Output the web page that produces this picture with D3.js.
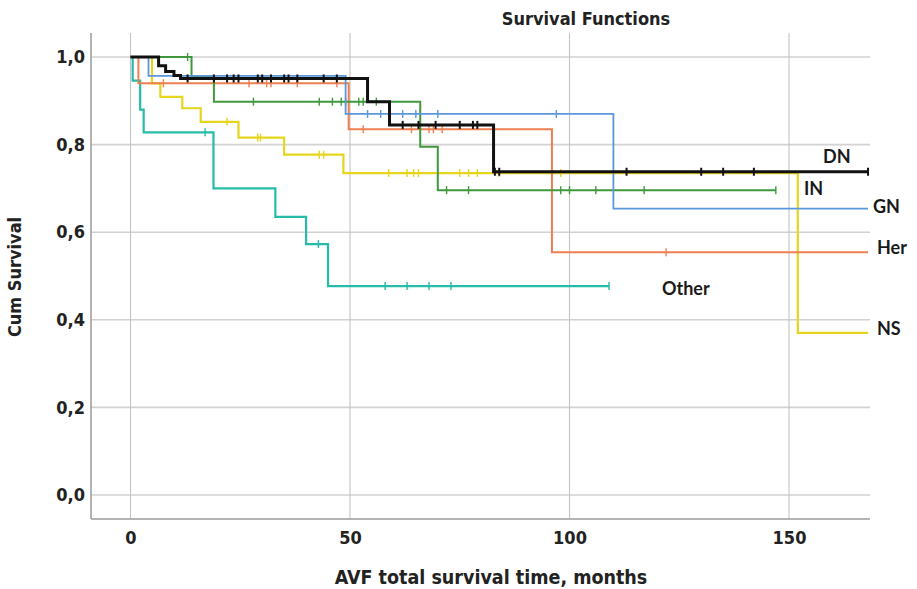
<!DOCTYPE html>
<html>
<head>
<meta charset="utf-8">
<script src="https://cdn.jsdelivr.net/npm/d3@7"></script>
<style>
  html, body { margin: 0; padding: 0; background: #fff; }
  svg { display: block; }
</style>
</head>
<body>
<svg id="chart" width="917" height="589"></svg>
<script>
// ---------------- data ----------------
const groupNames = ["Other", "NS", "Her", "IN", "GN", "DN"];

const otherTimes  = [0.5, 2.2, 3.0, 18.9, 33, 40, 45];
const otherSurv   = [0.946, 0.88, 0.828, 0.70, 0.635, 0.573, 0.477];
const otherCensor = [17, 42.8, 58, 63, 68, 73, 109];
const otherEnd = 109;

const nsTimes  = [4.9, 6.8, 11.8, 16, 24.6, 35, 48.5, 152];
const nsSurv   = [0.94, 0.909, 0.883, 0.852, 0.816, 0.777, 0.735, 0.37];
const nsCensor = [22, 29, 29.6, 43, 44, 58.8, 63, 64.5, 65.6, 75, 77, 79, 84, 98];
const nsEnd = 168;

const herTimes  = [1.8, 49.7, 96];
const herSurv   = [0.94, 0.835, 0.554];
const herCensor = [7.5, 27, 31, 32, 38, 47, 53, 64, 68, 69, 71, 122];
const herEnd = 168;

const inTimes  = [13.9, 19, 66, 70];
const inSurv   = [0.955, 0.898, 0.795, 0.696];
const inCensor = [13, 28, 43, 46, 48, 49, 52, 53, 56, 72, 77, 98, 100, 106, 117, 147];
const inEnd = 147;

const gnTimes  = [4.1, 49, 110];
const gnSurv   = [0.957, 0.87, 0.654];
const gnCensor = [54, 57, 62, 65, 70, 97];
const gnEnd = 168;

const dnTimes  = [6.4, 8.0, 9.9, 11.4, 54, 59, 82.7];
const dnSurv   = [0.98, 0.967, 0.958, 0.951, 0.898, 0.845, 0.738];
const dnCensor = [13, 19, 22, 23.5, 24.6, 29, 30, 32, 35, 36, 38, 44, 47, 62, 65.6, 69.5, 75, 78, 79, 83, 84, 113, 130, 135, 142, 168];
const dnEnd = 168;

const xTicks = [0, 50, 100, 150];
const yTicks = [0, 0.2, 0.4, 0.6, 0.8, 1.0];
const yTickLabels = ["0,0", "0,2", "0,4", "0,6", "0,8", "1,0"];

// ---------------- styles ----------------
const colors = { Other: "#26bba9", NS: "#e5d51c", Her: "#ee7f50", IN: "#3f993c", GN: "#5b97db", DN: "#111111" };
const widths = { Other: 2.2, NS: 2.2, Her: 2.0, IN: 2.0, GN: 1.8, DN: 3.0 };

const series = [
  { name: "Other", t: otherTimes, s: otherSurv, c: otherCensor, end: otherEnd },
  { name: "NS",    t: nsTimes,    s: nsSurv,    c: nsCensor,    end: nsEnd },
  { name: "Her",   t: herTimes,   s: herSurv,   c: herCensor,   end: herEnd },
  { name: "IN",    t: inTimes,    s: inSurv,    c: inCensor,    end: inEnd },
  { name: "GN",    t: gnTimes,    s: gnSurv,    c: gnCensor,    end: gnEnd },
  { name: "DN",    t: dnTimes,    s: dnSurv,    c: dnCensor,    end: dnEnd }
];

// ---------------- layout ----------------
const frame = { left: 91, right: 870, top: 33, bottom: 519 };
const x = d3.scaleLinear().domain([0, 150]).range([130.5, 789]);
const y = d3.scaleLinear().domain([0, 1]).range([495, 57]);

const svg = d3.select("#chart");
const tickFont = "'DejaVu Sans Condensed', 'DejaVu Sans', sans-serif";

// grid
svg.append("g").selectAll("line").data(yTicks).join("line")
  .attr("x1", frame.left).attr("x2", frame.right)
  .attr("y1", d => y(d)).attr("y2", d => y(d))
  .attr("stroke", "#d2d2d2").attr("stroke-width", 1.6);
svg.append("g").selectAll("line").data(xTicks).join("line")
  .attr("x1", d => x(d)).attr("x2", d => x(d))
  .attr("y1", frame.top).attr("y2", frame.bottom)
  .attr("stroke", "#c4c4c4").attr("stroke-width", 1.1);

// axes
const yAxis = d3.axisLeft(y).tickValues(yTicks).tickSize(0).tickPadding(6)
  .tickFormat((d, i) => yTickLabels[i]);
const gy = svg.append("g").attr("transform", `translate(${frame.left},0)`).call(yAxis);
gy.select(".domain").remove();
gy.selectAll("text").attr("font-family", tickFont).attr("font-weight", "bold")
  .attr("font-size", 18).attr("fill", "#222");

const xAxis = d3.axisBottom(x).tickValues(xTicks).tickSize(0).tickPadding(12)
  .tickFormat(d3.format("d"));
const gx = svg.append("g").attr("transform", `translate(0,${frame.bottom})`).call(xAxis);
gx.select(".domain").remove();
gx.selectAll("text").attr("font-family", tickFont).attr("font-weight", "bold")
  .attr("font-size", 18).attr("fill", "#222");

svg.append("line").attr("x1", frame.left).attr("x2", frame.left)
  .attr("y1", frame.top).attr("y2", frame.bottom).attr("stroke", "#9a9a9a").attr("stroke-width", 1.5);
svg.append("line").attr("x1", frame.left).attr("x2", frame.right)
  .attr("y1", frame.bottom).attr("y2", frame.bottom).attr("stroke", "#9a9a9a").attr("stroke-width", 1.5);

// titles
svg.append("text").attr("x", 586).attr("y", 25).attr("text-anchor", "middle")
  .attr("font-family", tickFont).attr("font-weight", "bold").attr("font-size", 18)
  .attr("fill", "#222").text("Survival Functions");
svg.append("text").attr("x", 491).attr("y", 584).attr("text-anchor", "middle")
  .attr("font-family", tickFont).attr("font-weight", "bold").attr("font-size", 19.5)
  .attr("fill", "#222").text("AVF total survival time, months");
svg.append("text").attr("transform", "translate(21,277) rotate(-90)").attr("text-anchor", "middle")
  .attr("font-family", tickFont).attr("font-weight", "bold").attr("font-size", 18)
  .attr("fill", "#222").text("Cum Survival");

// curves
const line = d3.line().x(d => x(d[0])).y(d => y(d[1])).curve(d3.curveStepAfter);
function survAt(sr, t) {
  let v = 1;
  for (let i = 0; i < sr.t.length; i++) if (sr.t[i] <= t) v = sr.s[i];
  return v;
}
series.forEach(sr => {
  const pts = [[0, 1]].concat(sr.t.map((t, i) => [t, sr.s[i]]));
  pts.push([sr.end, sr.s[sr.s.length - 1]]);
  const g = svg.append("g");
  g.append("path").datum(pts).attr("d", line).attr("fill", "none")
    .attr("stroke", colors[sr.name]).attr("stroke-width", widths[sr.name])
    .attr("stroke-linejoin", "miter");
  g.selectAll("line").data(sr.c).join("line")
    .attr("x1", d => x(d)).attr("x2", d => x(d))
    .attr("y1", d => y(survAt(sr, d)) - 4).attr("y2", d => y(survAt(sr, d)) + 4)
    .attr("stroke", colors[sr.name]).attr("stroke-width", sr.name === "DN" ? 2 : 1.4);
});

// group labels
const labelPos = { DN: [823, 163], IN: [804, 195], GN: [873, 213], Her: [877, 254], Other: [662, 295], NS: [877, 335] };
const labelFont = "Lato, 'Open Sans', sans-serif";
groupNames.forEach(n => {
  svg.append("text").attr("x", labelPos[n][0]).attr("y", labelPos[n][1])
    .attr("font-family", labelFont).attr("font-weight", "bold").attr("font-size", 18)
    .attr("fill", "#1a1a1a").text(n);
});
</script>
</body>
</html>
